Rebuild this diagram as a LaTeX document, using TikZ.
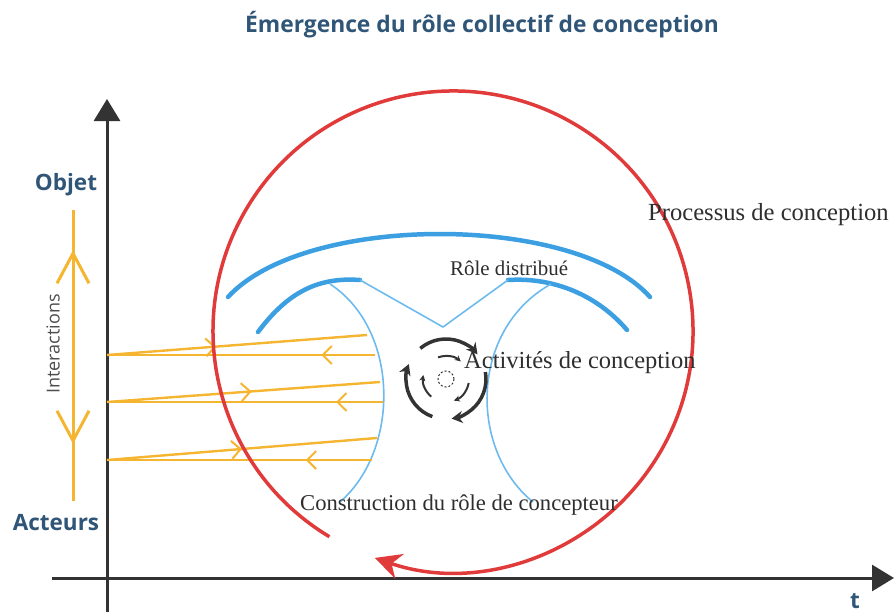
\documentclass[tikz,border=0pt]{standalone}
\usepackage{fontspec}
\setmainfont{Liberation Serif}
\newfontfamily\osans{Open Sans}
\usetikzlibrary{arrows.meta,decorations.markings,calc}
\definecolor{titleblue}{HTML}{2F5577}
\definecolor{axisgray}{HTML}{333333}
\definecolor{oryel}{HTML}{F5B531}
\definecolor{circred}{HTML}{E03A3A}
\definecolor{bthick}{HTML}{3C9FE2}
\definecolor{bthin}{HTML}{6DBBEE}
\definecolor{txtgray}{HTML}{2E2E2E}
\definecolor{icongray}{HTML}{333333}
\begin{document}
\begin{tikzpicture}[x=1pt,y=-1pt,
  axisline/.style={draw=axisgray,line width=3pt,-{Triangle[length=22pt,width=26pt]}},
  ttl/.style={text=titleblue,font=\osans\bfseries\fontsize{22.8}{25}\selectfont,inner sep=0pt},
  axlbl/.style={text=titleblue,font=\osans\bfseries\fontsize{22.5}{25}\selectfont,inner sep=0pt},
  seriflbl/.style={text=txtgray,inner sep=0pt,anchor=base west},
  yline/.style={draw=oryel,line width=2.4pt},
  ymark/.style={postaction={decorate},decoration={markings,mark=at position #1 with {\arrow[oryel,line width=2pt]{Straight Barb[length=9pt,width=18pt]}}}},
  bluebig/.style={draw=bthick,line width=4.5pt,line cap=round},
  bluesmall/.style={draw=bthin,line width=1.6pt},
  redcirc/.style={draw=circred,line width=3.5pt,-{Stealth[length=26pt,width=26pt]}},
  iconout/.style={draw=icongray,line width=3.5pt,-{Stealth[length=11pt,width=12pt]}},
  iconin/.style={draw=icongray,line width=2pt,-{Stealth[length=6pt,width=6pt]}}
]
\useasboundingbox (0,0) rectangle (895,616);

% title
\node[ttl,anchor=base] (title) at (482,32) {Émergence du rôle collectif de conception};

% axes
\coordinate (vbot) at (107,612);
\coordinate (vtop) at (107,99);
\coordinate (hleft) at (52,578);
\coordinate (hright) at (894,578);
\draw[axisline] (vbot) -- (vtop);
\draw[axisline] (hleft) -- (hright);
\node[axlbl,anchor=base] (tlbl) at (855,608) {t};
\node[axlbl,anchor=base] (objet) at (66,190) {Objet};
\node[axlbl,anchor=base] (acteurs) at (56,530) {Acteurs};

% interactions double arrow
\coordinate (ibot) at (73,501);
\coordinate (itop) at (73,210);
\draw[yline,line width=3pt,postaction={decorate},decoration={markings,
  mark=at position 0.862 with {\arrow[oryel,line width=3pt]{Straight Barb[length=30pt,width=32pt]}},
  mark=at position 0.196 with {\arrowreversed[oryel,line width=3pt]{Straight Barb[length=30pt,width=32pt]}}}]
  (ibot) -- (itop);
\node[text=txtgray!85,font=\osans\fontsize{18}{20}\selectfont,rotate=90,inner sep=0pt] (inter) at (53,344) {Interactions};

% blue shapes
\coordinate (ob1) at (228,297);
\coordinate (ob2) at (650,297);
\draw[bluebig] (ob1) .. controls (305,213) and (575,213) .. (ob2);
\coordinate (il1) at (258,332);
\coordinate (il2) at (360,280);
\coordinate (ir1) at (508,280);
\coordinate (ir2) at (627,330);
\coordinate (vmid) at (443,327);
\draw[bluebig] (il1) .. controls (288,292) and (318,277) .. (il2);
\draw[bluebig] (ir1) .. controls (555,277) and (598,296) .. (ir2);
\draw[bluesmall] (il2) -- (vmid) -- (ir1);
\coordinate (lc1) at (330,284);
\coordinate (lc2) at (340,502);
\coordinate (rc1) at (551,284);
\coordinate (rc2) at (533,502);
\draw[bluesmall] (lc1) .. controls (400,330) and (400,450) .. (lc2);
\draw[bluesmall] (rc1) .. controls (469,330) and (469,450) .. (rc2);

% yellow interaction lines
\coordinate (a1) at (107,355); \coordinate (s1) at (367,335); \coordinate (h1) at (375,355);
\coordinate (a2) at (107,402); \coordinate (s2) at (380,382); \coordinate (h2) at (383,402);
\coordinate (a3) at (107,460); \coordinate (s3) at (377,438); \coordinate (h3) at (372,460);
\draw[yline,ymark=0.42] (a1) -- (s1);
\draw[yline,ymark=0.20] (h1) -- (a1);
\draw[yline,ymark=0.53] (a2) -- (s2);
\draw[yline,ymark=0.17] (h2) -- (a2);
\draw[yline,ymark=0.50] (a3) -- (s3);
\draw[yline,ymark=0.25] (h3) -- (a3);

% red process circle
\coordinate (rstart) at (329.4,536.7);
\draw[redcirc] (rstart) arc[start angle=121,end angle=469,radius=240];

% activity icon
\coordinate (ic) at (446,379);
\draw[iconout] ($(ic)+(230:40)$) arc[start angle=230,end angle=322,radius=40];
\draw[iconout] ($(ic)+(350:40)$) arc[start angle=350,end angle=442,radius=40];
\draw[iconout] ($(ic)+(110:40)$) arc[start angle=110,end angle=202,radius=40];
\draw[iconin] ($(ic)+(250:23)$) arc[start angle=250,end angle=310,radius=23];
\draw[iconin] ($(ic)+(10:23)$) arc[start angle=10,end angle=70,radius=23];
\draw[iconin] ($(ic)+(130:23)$) arc[start angle=130,end angle=190,radius=23];
\draw[icongray,line width=1pt,dash pattern=on 2pt off 2pt] (ic) circle[radius=8];

% labels
\node[seriflbl,font=\fontsize{24.6}{27}\selectfont] (proc) at (648,220) {Processus de conception};
\node[seriflbl,font=\fontsize{20.9}{23}\selectfont] (role) at (450,275) {Rôle distribué};
\node[seriflbl,font=\fontsize{24.5}{27}\selectfont] (activ) at (464,368) {Activités de conception};
\node[seriflbl,font=\fontsize{22.6}{25}\selectfont] (constr) at (300,510) {Construction du rôle de concepteur};
\end{tikzpicture}
\end{document}
